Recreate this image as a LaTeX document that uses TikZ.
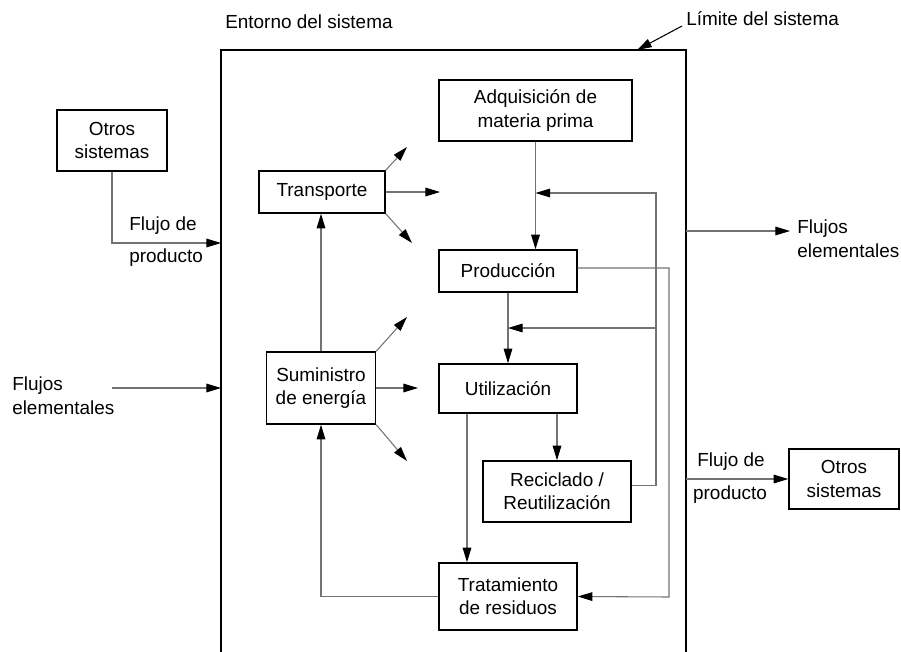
\documentclass[tikz,border=0pt]{standalone}
\usepackage{fontspec}
\setmainfont{Liberation Sans}
\usetikzlibrary{arrows.meta}

\begin{document}
\begin{tikzpicture}[x=0.75pt,y=-0.75pt,
  caja/.style={draw,line width=1.1pt,align=center,inner sep=0pt,font=\fontsize{14.2}{17.5}\selectfont},
  txt/.style={inner sep=0pt,font=\fontsize{14.2}{18}\selectfont},
  flujo/.style={draw=black!55,line width=0.8pt,-{Triangle[length=11pt,width=6.5pt,color=black]}}]
  \useasboundingbox (0,0) rectangle (901,651);

  % System boundary
  \draw[line width=1.5pt] (221,660) -- (221,50) -- (686,50) -- (686,660);
  \node[txt,anchor=west] (entorno) at (225,22) {Entorno del sistema};
  \node[txt,anchor=west] (limite) at (686,19) {Límite del sistema};
  \coordinate (limEsq) at (637,50);
  \draw[line width=0.8pt,-{Triangle[length=11pt,width=6.5pt]}] (682,26) -- (limEsq);

  % Boxes
  \node[caja,minimum width=82.5pt,minimum height=45.75pt] (otrosIzq) at (112,140.5) {Otros\\sistemas};
  \node[caja,minimum width=94.5pt,minimum height=31.5pt] (transporte) at (322,192) {Transporte};
  \node[caja,minimum width=81.75pt,minimum height=54pt] (suministro) at (321,388) {Suministro\\de energía};
  \node[caja,minimum width=144.75pt,minimum height=45.75pt] (adquisicion) at (535.5,110.5) {Adquisición de\\materia prima};
  \node[caja,minimum width=103.5pt,minimum height=31.5pt] (produccion) at (508,271) {Producción};
  \node[caja,minimum width=103.5pt,minimum height=36.75pt] (utilizacion) at (508,388.5) {Utilización};
  \node[caja,minimum width=111pt,minimum height=45.75pt] (reciclado) at (557,491.5) {Reciclado /\\Reutilización};
  \node[caja,minimum width=103.5pt,minimum height=50.25pt] (tratamiento) at (508,596.5) {Tratamiento\\de residuos};
  \node[caja,minimum width=82.5pt,minimum height=45pt] (otrosDer) at (844,479) {Otros\\sistemas};

  % Main chain
  \draw[flujo] (adquisicion.south) -- (adquisicion.south |- produccion.north);
  \draw[flujo] (produccion.south) -- (utilizacion.north);
  \draw[flujo] (reciclado.north |- utilizacion.south) -- (reciclado.north);
  \draw[flujo] ([xshift=-30.75pt]utilizacion.south) -- ([xshift=-30.75pt]tratamiento.north);

  % Loops back
  \coordinate (r1) at (656,193);
  \coordinate (r2) at (656,328);
  \coordinate (p2) at (669,597);
  \draw[flujo] ([yshift=4.5pt]reciclado.east) -| (r1) -- (adquisicion.south |- r1);
  \draw[flujo] (r2) -- (produccion.south |- r2);
  \draw[flujo] ([yshift=2.25pt]produccion.east) -| (p2) -- (tratamiento.east);
  \draw[flujo] (tratamiento.west) -| (suministro.south);
  \draw[flujo] (suministro.north) -- (suministro.north |- transporte.south);

  % Emissions
  \draw[flujo] (transporte.north east) -- (407,147);
  \draw[flujo] (transporte.east) -- (440,192);
  \draw[flujo] (transporte.south east) -- (412,243);
  \draw[flujo] (suministro.north east) -- (407,317);
  \draw[flujo] (suministro.east) -- (418,388);
  \draw[flujo] (suministro.south east) -- (407,461);

  % Inputs
  \coordinate (bordeA) at (221,243);
  \draw[flujo] (otrosIzq.south) |- (bordeA);
  \node[txt,anchor=west] (flujoIzqA) at (129,226) {Flujo de};
  \node[txt,anchor=west] (flujoIzqB) at (129,258) {producto};
  \node[txt,anchor=west,align=left] (elemIzq) at (12,395.5) {Flujos\\elementales};
  \coordinate (eIzq) at (112,388);
  \coordinate (bordeB) at (221,388);
  \draw[flujo] (eIzq) -- (bordeB);

  % Outputs
  \coordinate (bordeC) at (686,231);
  \coordinate (eDer) at (790,231);
  \draw[flujo] (bordeC) -- (eDer);
  \node[txt,anchor=west,align=left] (elemDer) at (797,238.5) {Flujos\\elementales};
  \coordinate (bordeD) at (686,479);
  \draw[flujo] (bordeD) -- (otrosDer.west);
  \node[txt] (flujoDerA) at (731,462) {Flujo de};
  \node[txt] (flujoDerB) at (730,495) {producto};

\end{tikzpicture}
\end{document}
